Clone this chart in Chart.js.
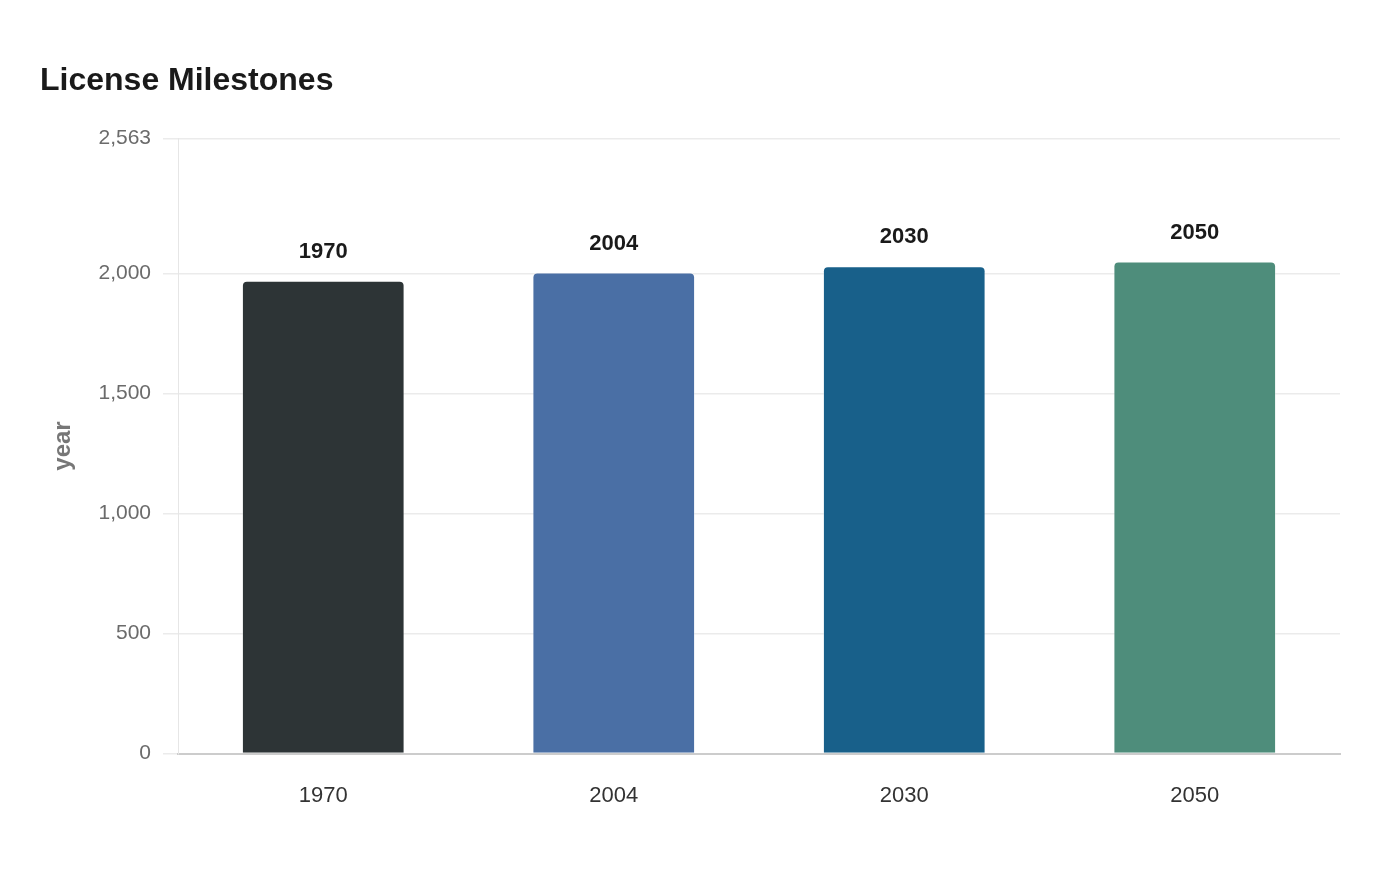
<!DOCTYPE html>
<html>
<head>
<meta charset="utf-8">
<title>License Milestones</title>
<script src="https://cdn.jsdelivr.net/npm/chart.js@4.4.1/dist/chart.umd.min.js"></script>
<style>
  html, body { margin: 0; padding: 0; background: #ffffff; }
  #wrap { position: relative; width: 1400px; height: 880px; }
</style>
</head>
<body>
<div id="wrap"><canvas id="chart"></canvas></div>
<script>
/* ---- DATA ---- */
const categories = ['1970', '2004', '2030', '2050'];
const yearValues = [1970, 2004, 2030, 2050];
const barColors = ['#2d3436', '#4a6fa5', '#18608a', '#4e8d7b'];
const yTicks = [0, 500, 1000, 1500, 2000, 2563];

const FONT = '"Liberation Sans", Arial, Helvetica, sans-serif';

// value labels above each bar
const valueLabels = {
  id: 'valueLabels',
  afterDatasetsDraw(chart) {
    const ctx = chart.ctx;
    const meta = chart.getDatasetMeta(0);
    ctx.save();
    ctx.font = 'bold 22px ' + FONT;
    ctx.fillStyle = '#1a1a1a';
    ctx.textAlign = 'center';
    ctx.textBaseline = 'middle';
    meta.data.forEach((bar, i) => {
      const v = chart.data.datasets[0].data[i];
      ctx.fillText(String(v), bar.x, bar.y - 29);
    });
    ctx.restore();
  }
};

new Chart(document.getElementById('chart'), {
  type: 'bar',
  data: {
    labels: categories,
    datasets: [{
      label: 'year',
      data: yearValues,
      backgroundColor: barColors,
      borderColor: 'rgba(255,255,255,0.35)',
      borderWidth: 1,
      borderRadius: { topLeft: 5, topRight: 5 },
      borderSkipped: 'start',
      barPercentage: 0.7,
      categoryPercentage: 0.8
    }]
  },
  options: {
    responsive: true,
    maintainAspectRatio: false,
    animation: false,
    layout: { padding: { left: 40, right: 60, top: 0, bottom: 42 } },
    plugins: {
      legend: { display: false },
      tooltip: { enabled: false },
      title: {
        display: true,
        text: 'License Milestones',
        align: 'start',
        color: '#1a1a1a',
        font: { family: FONT, size: 32, weight: 'bold' },
        padding: { top: 62, bottom: 38 }
      }
    },
    scales: {
      x: {
        grid: { display: false, drawTicks: false },
        border: { display: true, color: '#cccccc', width: 2 },
        ticks: { color: '#333333', font: { family: FONT, size: 22 }, padding: 29 }
      },
      y: {
        min: 0,
        max: 2563,
        afterBuildTicks: scale => { scale.ticks = yTicks.map(v => ({ value: v })); },
        afterFit: scale => { scale.width = 138; },
        grid: { color: '#ebebeb', lineWidth: 1.5, tickLength: 15 },
        border: { display: true, color: '#e6e6e6', width: 1 },
        ticks: {
          color: '#6b6b6b',
          font: { family: FONT, size: 21 },
          padding: 12,
          callback: v => v.toLocaleString('en-US')
        },
        title: {
          display: true,
          text: 'year',
          color: '#777777',
          font: { family: FONT, size: 24, weight: 'bold' },
          padding: { top: 9, bottom: 0 }
        }
      }
    }
  },
  plugins: [valueLabels]
});
</script>
</body>
</html>
